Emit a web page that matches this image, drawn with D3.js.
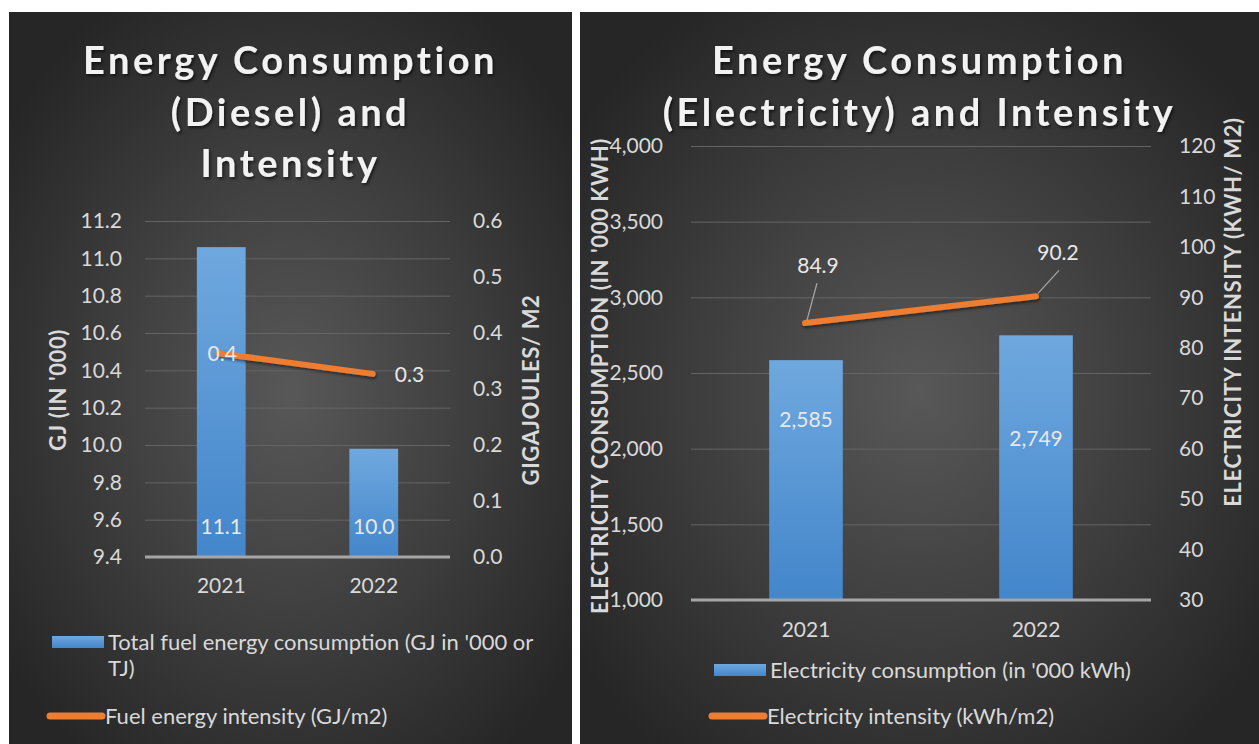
<!DOCTYPE html>
<html>
<head>
<meta charset="utf-8">
<script src="https://cdn.jsdelivr.net/npm/d3@7"></script>
<style>
body { margin: 0; background: #fff; }
text { font-family: Lato, "Open Sans", sans-serif; }
</style>
</head>
<body>
<svg width="1259" height="744"></svg>
<script>
// data
const years = ["2021", "2022"];
const dieselConsumption = [11.06, 9.98];
const dieselIntensity = [0.364, 0.327];
const dieselLeftTicks = [9.4, 9.6, 9.8, 10.0, 10.2, 10.4, 10.6, 10.8, 11.0, 11.2];
const dieselRightTicks = [0, 0.1, 0.2, 0.3, 0.4, 0.5, 0.6];

const elecConsumption = [2585, 2749];
const elecIntensity = [84.9, 90.2];
const elecLeftTicks = [1000, 1500, 2000, 2500, 3000, 3500, 4000];
const elecRightTicks = [30, 40, 50, 60, 70, 80, 90, 100, 110, 120];

const svg = d3.select("svg");
const defs = svg.append("defs");

let bg = defs.append("radialGradient").attr("id", "bg")
    .attr("cx", "50%").attr("cy", "52%").attr("r", "62%");
bg.append("stop").attr("offset", "0%").attr("stop-color", "#585858");
bg.append("stop").attr("offset", "100%").attr("stop-color", "#262626");

let barGrad = defs.append("linearGradient").attr("id", "barGrad")
    .attr("x1", 0).attr("y1", 0).attr("x2", 0).attr("y2", 1);
barGrad.append("stop").attr("offset", "0%").attr("stop-color", "#6fa8de");
barGrad.append("stop").attr("offset", "100%").attr("stop-color", "#4386cb");

let shadow = defs.append("filter").attr("id", "shadow")
    .attr("x", "-20%").attr("y", "-20%").attr("width", "140%").attr("height", "160%");
shadow.append("feDropShadow").attr("dx", 1.5).attr("dy", 2).attr("stdDeviation", 1.5)
    .attr("flood-color", "#000").attr("flood-opacity", 0.6);

let lineShadow = defs.append("filter").attr("id", "lineShadow")
    .attr("x", "-10%").attr("y", "-50%").attr("width", "120%").attr("height", "200%");
lineShadow.append("feDropShadow").attr("dx", 1).attr("dy", 2).attr("stdDeviation", 1.5)
    .attr("flood-color", "#000").attr("flood-opacity", 0.5);

function drawPanel(p) {
    const g = svg.append("g");

    g.append("rect")
        .attr("x", p.x0).attr("y", 12)
        .attr("width", p.x1 - p.x0).attr("height", 744 - 12)
        .attr("fill", "url(#bg)");

    const cx = (p.x0 + p.x1) / 2;
    g.append("text")
        .attr("text-anchor", "middle")
        .attr("fill", "#f2f2f2")
        .attr("font-size", 38)
        .attr("font-weight", "bold")
        .attr("letter-spacing", 3.5)
        .attr("filter", "url(#shadow)")
        .selectAll("tspan")
        .data(p.title)
        .enter().append("tspan")
        .attr("x", cx)
        .attr("y", function (d, i) { return 74 + i * 51.5; })
        .text(function (d) { return d; });

    const x = d3.scaleBand().domain(years).range([p.left, p.right]);
    const y = d3.scaleLinear().domain(d3.extent(p.leftTicks)).range([p.bottom, p.top]);
    const y2 = d3.scaleLinear().domain(d3.extent(p.rightTicks)).range([p.bottom, p.top]);

    // grid + left labels
    const leftAxis = g.append("g")
        .attr("transform", "translate(" + p.left + ",0)")
        .call(d3.axisLeft(y).tickValues(p.leftTicks).tickFormat(p.leftFormat)
            .tickSize(-(p.right - p.left)).tickPadding(p.tickPad));
    leftAxis.select(".domain").remove();
    leftAxis.selectAll("line").attr("stroke", "#646464").attr("stroke-width", 1);
    leftAxis.selectAll("text").attr("fill", "#d9d9d9").attr("font-size", 21)
        .attr("font-family", "Lato, sans-serif");

    const rightAxis = g.append("g")
        .attr("transform", "translate(" + p.right + ",0)")
        .call(d3.axisRight(y2).tickValues(p.rightTicks).tickFormat(p.rightFormat)
            .tickSize(0).tickPadding(p.tickPad));
    rightAxis.select(".domain").remove();
    rightAxis.selectAll("text").attr("fill", "#d9d9d9").attr("font-size", 21)
        .attr("font-family", "Lato, sans-serif");

    // bars
    const bw = x.bandwidth() * 0.32;
    g.selectAll(".bar")
        .data(p.bars)
        .enter().append("rect")
        .attr("class", "bar")
        .attr("x", function (d, i) { return x(years[i]) + x.bandwidth() / 2 - bw / 2; })
        .attr("y", function (d) { return y(d); })
        .attr("width", bw)
        .attr("height", function (d) { return p.bottom - y(d); })
        .attr("fill", "url(#barGrad)");

    // baseline
    g.append("line")
        .attr("x1", p.left).attr("x2", p.right)
        .attr("y1", p.bottom).attr("y2", p.bottom)
        .attr("stroke", "#a6a6a6").attr("stroke-width", 3);

    // x labels
    const xAxis = g.append("g")
        .attr("transform", "translate(0," + p.bottom + ")")
        .call(d3.axisBottom(x).tickSize(0).tickPadding(p.xPad));
    xAxis.select(".domain").remove();
    xAxis.selectAll("text").attr("fill", "#d9d9d9").attr("font-size", 21)
        .attr("font-family", "Lato, sans-serif");

    // bar labels
    g.selectAll(".barLabel")
        .data(p.bars)
        .enter().append("text")
        .attr("class", "barLabel")
        .attr("x", function (d, i) { return x(years[i]) + x.bandwidth() / 2; })
        .attr("y", function (d, i) { return p.barLabelY(d, i, y); })
        .attr("dy", "0.35em")
        .attr("text-anchor", "middle")
        .attr("fill", "#e8e8e8")
        .attr("font-size", 21)
        .text(function (d) { return p.barFormat(d); });

    // line
    const pts = p.line.map(function (d, i) {
        return [x(years[i]) + x.bandwidth() / 2 + p.lineShift[i], y2(d)];
    });
    g.append("path")
        .attr("d", d3.line()(pts))
        .attr("fill", "none")
        .attr("stroke", "#ed7d31")
        .attr("stroke-width", 6)
        .attr("stroke-linecap", "round")
        .attr("filter", "url(#lineShadow)");

    if (p.leaders) {
        g.selectAll(".leader")
            .data(pts)
            .enter().append("line")
            .attr("x1", function (d) { return d[0] + 2; })
            .attr("y1", function (d) { return d[1] - 3; })
            .attr("x2", function (d, i) { return d[0] + p.leaders[i][0]; })
            .attr("y2", function (d, i) { return d[1] + p.leaders[i][1]; })
            .attr("stroke", "#a6a6a6").attr("stroke-width", 1.3);
    }

    g.selectAll(".lineLabel")
        .data(p.line)
        .enter().append("text")
        .attr("class", "lineLabel")
        .attr("x", function (d, i) { return pts[i][0] + p.lineLabelPos[i][0]; })
        .attr("y", function (d, i) { return pts[i][1] + p.lineLabelPos[i][1]; })
        .attr("dy", "0.35em")
        .attr("text-anchor", function (d, i) { return p.lineLabelPos[i][2]; })
        .attr("fill", "#e8e8e8")
        .attr("font-size", 21)
        .text(function (d) { return p.lineFormat(d); });

    // axis titles
    p.axisTitles.forEach(function (t) {
        g.append("text")
            .attr("transform", "translate(" + t.x + "," + t.y + ") rotate(-90)")
            .attr("text-anchor", "middle")
            .attr("dy", "0.35em")
            .attr("fill", "#d9d9d9")
            .attr("font-size", 22)
            .attr("font-weight", "bold")
            .attr("letter-spacing", 0.6)
            .text(t.text);
    });

    // legend
    const lg = g.append("g");
    p.legend.forEach(function (l) {
        if (l.type === "bar") {
            lg.append("rect")
                .attr("x", l.x).attr("y", l.y - 6)
                .attr("width", 52).attr("height", 12)
                .attr("fill", "url(#barGrad)");
        } else {
            lg.append("line")
                .attr("x1", l.x + 1).attr("x2", l.x + 53)
                .attr("y1", l.y).attr("y2", l.y)
                .attr("stroke", "#ed7d31").attr("stroke-width", 7)
                .attr("stroke-linecap", "round");
        }
        l.lines.forEach(function (s, i) {
            lg.append("text")
                .attr("x", l.x + 56)
                .attr("y", l.y + i * 26)
                .attr("dy", "0.35em")
                .attr("fill", "#d9d9d9")
                .attr("font-size", 22)
                .text(s);
        });
    });
}

drawPanel({
    x0: 9, x1: 572,
    title: ["Energy Consumption", "(Diesel) and", "Intensity"],
    left: 145, right: 450, top: 221, bottom: 557,
    leftTicks: dieselLeftTicks, rightTicks: dieselRightTicks,
    leftFormat: d3.format(".1f"), rightFormat: d3.format(".1f"),
    bars: dieselConsumption, line: dieselIntensity,
    barFormat: d3.format(".1f"), lineFormat: d3.format(".1f"),
    barLabelY: function (d, i, y) { return 557 - 30; },
    lineShift: [-3, -1],
    lineLabelPos: [[4, 0, "middle"], [22, 1, "start"]],
    tickPad: 23,
    xPad: 21,
    axisTitles: [
        { x: 58, y: 390, text: "GJ (IN '000)" },
        { x: 531, y: 390, text: "GIGAJOULES/ M2" }
    ],
    legend: [
        { type: "bar", x: 52, y: 642, lines: ["Total fuel energy consumption (GJ in '000 or", "TJ)"] },
        { type: "line", x: 49, y: 716, lines: ["Fuel energy intensity (GJ/m2)"] }
    ]
});

drawPanel({
    x0: 580, x1: 1259,
    title: ["Energy Consumption", "(Electricity) and Intensity"],
    left: 691, right: 1151, top: 146, bottom: 600,
    leftTicks: elecLeftTicks, rightTicks: elecRightTicks,
    leftFormat: d3.format(","), rightFormat: d3.format("d"),
    bars: elecConsumption, line: elecIntensity,
    barFormat: d3.format(","), lineFormat: d3.format(".1f"),
    barLabelY: function (d, i, y) { return y(d) + [60, 103][i]; },
    lineShift: [-1, 0],
    lineLabelPos: [[13, -57, "middle"], [22, -44, "middle"]],
    leaders: [[12, -40], [23, -26]],
    tickPad: 28,
    xPad: 22,
    axisTitles: [
        { x: 600, y: 376, text: "ELECTRICITY CONSUMPTION (IN '000 KWH)" },
        { x: 1233, y: 312, text: "ELECTRICITY INTENSITY (KWH/ M2)" }
    ],
    legend: [
        { type: "bar", x: 714, y: 670, lines: ["Electricity consumption (in '000 kWh)"] },
        { type: "line", x: 711, y: 716, lines: ["Electricity intensity (kWh/m2)"] }
    ]
});
</script>
</body>
</html>
